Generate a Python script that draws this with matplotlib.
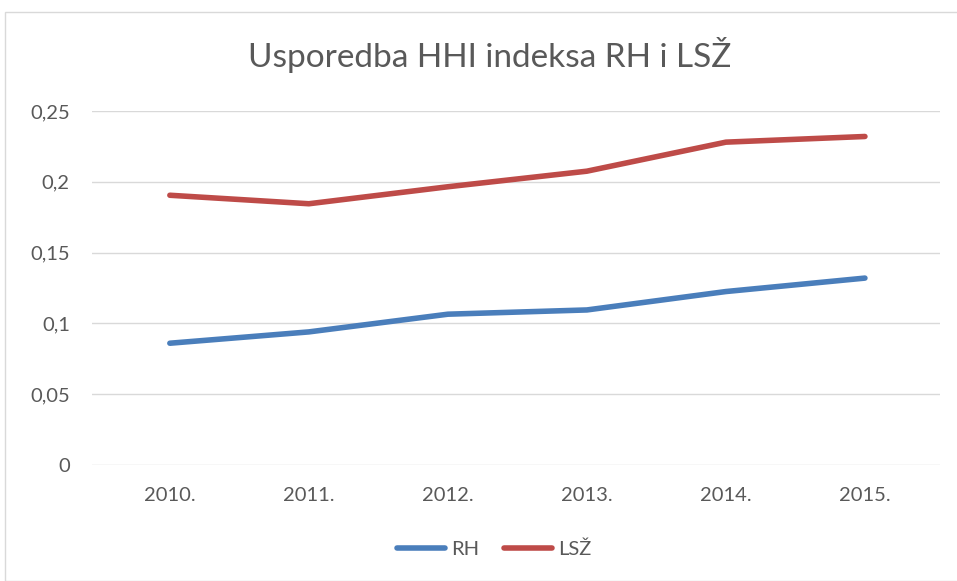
import matplotlib.pyplot as plt
from matplotlib.patches import Rectangle
from matplotlib.ticker import FuncFormatter

years = ["2010.", "2011.", "2012.", "2013.", "2014.", "2015."]
rh = [0.086, 0.094, 0.1065, 0.1095, 0.1225, 0.132]
lsz = [0.1905, 0.1845, 0.1965, 0.2075, 0.228, 0.232]

plt.rcParams['font.family'] = ['Lato', 'DejaVu Sans']

fig = plt.figure(figsize=(9.57, 5.81), dpi=100)
ax = fig.add_axes([92 / 957, 1 - 465 / 581, (940 - 92) / 957, (465 - 111) / 581])

x = range(len(years))
ax.plot(x, rh, color="#4a7ebb", lw=4, solid_capstyle="round", label="RH")
ax.plot(x, lsz, color="#be4b48", lw=4, solid_capstyle="round", label="LSŽ")

ax.set_xlim(-0.56, 5.54)
ax.set_ylim(0, 0.25)
ax.set_yticks([0, 0.05, 0.1, 0.15, 0.2, 0.25])
ax.yaxis.set_major_formatter(FuncFormatter(lambda v, p: "0" if v == 0 else f"{v:g}".replace(".", ",")))
ax.set_xticks(list(x))
ax.set_xticklabels(years)
ax.grid(axis="y", color="#d9d9d9", lw=1)
ax.set_axisbelow(True)
for s in ax.spines.values():
    s.set_visible(False)
ax.tick_params(length=0, labelsize=14.5, colors="#595959")
ax.tick_params(axis="y", pad=16)
ax.tick_params(axis="x", pad=16)

fig.text(490 / 957, 1 - 55 / 581, "Usporedba HHI indeksa RH i LSŽ", ha="center", va="center",
         fontsize=24, color="#595959")
fig.legend(loc="center", bbox_to_anchor=(494 / 957, 1 - 549 / 581), ncol=2, frameon=False,
           fontsize=14.5, labelcolor="#595959", handlelength=2.4, columnspacing=1.2, handletextpad=0.3)

fig.patches.append(Rectangle((5 / 957, 0), 960 / 957, 1 - 12 / 581, transform=fig.transFigure,
                             fill=False, edgecolor="#d9d9d9", lw=1))

fig.savefig("out.png", dpi=100)
